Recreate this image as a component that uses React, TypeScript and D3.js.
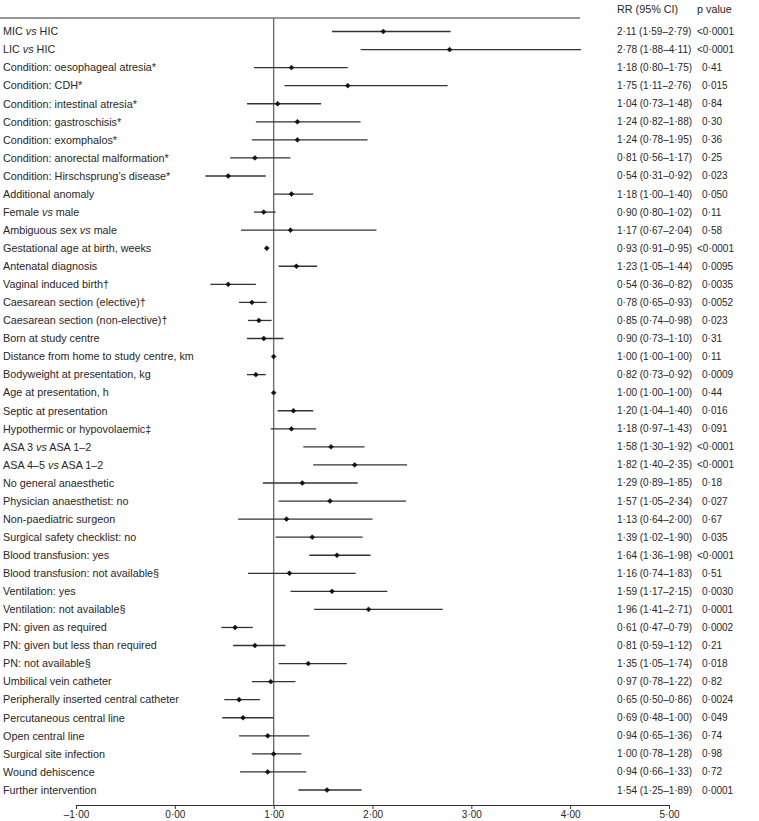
import React, { useRef, useEffect } from 'react';
import * as d3 from 'd3';

const labels = [
  'MIC vs HIC',
  'LIC vs HIC',
  'Condition: oesophageal atresia*',
  'Condition: CDH*',
  'Condition: intestinal atresia*',
  'Condition: gastroschisis*',
  'Condition: exomphalos*',
  'Condition: anorectal malformation*',
  'Condition: Hirschsprung\u2019s disease*',
  'Additional anomaly',
  'Female vs male',
  'Ambiguous sex vs male',
  'Gestational age at birth, weeks',
  'Antenatal diagnosis',
  'Vaginal induced birth\u2020',
  'Caesarean section (elective)\u2020',
  'Caesarean section (non-elective)\u2020',
  'Born at study centre',
  'Distance from home to study centre, km',
  'Bodyweight at presentation, kg',
  'Age at presentation, h',
  'Septic at presentation',
  'Hypothermic or hypovolaemic\u2021',
  'ASA 3 vs ASA 1\u20132',
  'ASA 4\u20135 vs ASA 1\u20132',
  'No general anaesthetic',
  'Physician anaesthetist: no',
  'Non-paediatric surgeon',
  'Surgical safety checklist: no',
  'Blood transfusion: yes',
  'Blood transfusion: not available\u00a7',
  'Ventilation: yes',
  'Ventilation: not available\u00a7',
  'PN: given as required',
  'PN: given but less than required',
  'PN: not available\u00a7',
  'Umbilical vein catheter',
  'Peripherally inserted central catheter',
  'Percutaneous central line',
  'Open central line',
  'Surgical site infection',
  'Wound dehiscence',
  'Further intervention',
];

const rr = [2.11, 2.78, 1.18, 1.75, 1.04, 1.24, 1.24, 0.81, 0.54, 1.18, 0.90, 1.17, 0.93, 1.23, 0.54, 0.78, 0.85, 0.90, 1.00, 0.82, 1.00, 1.20, 1.18, 1.58, 1.82, 1.29, 1.57, 1.13, 1.39, 1.64, 1.16, 1.59, 1.96, 0.61, 0.81, 1.35, 0.97, 0.65, 0.69, 0.94, 1.00, 0.94, 1.54];
const ciLow = [1.59, 1.88, 0.80, 1.11, 0.73, 0.82, 0.78, 0.56, 0.31, 1.00, 0.80, 0.67, 0.91, 1.05, 0.36, 0.65, 0.74, 0.73, 1.00, 0.73, 1.00, 1.04, 0.97, 1.30, 1.40, 0.89, 1.05, 0.64, 1.02, 1.36, 0.74, 1.17, 1.41, 0.47, 0.59, 1.05, 0.78, 0.50, 0.48, 0.65, 0.78, 0.66, 1.25];
const ciHigh = [2.79, 4.11, 1.75, 2.76, 1.48, 1.88, 1.95, 1.17, 0.92, 1.40, 1.02, 2.04, 0.95, 1.44, 0.82, 0.93, 0.98, 1.10, 1.00, 0.92, 1.00, 1.40, 1.43, 1.92, 2.35, 1.85, 2.34, 2.00, 1.90, 1.98, 1.83, 2.15, 2.71, 0.79, 1.12, 1.74, 1.22, 0.86, 1.00, 1.36, 1.28, 1.33, 1.89];
const pValues = ['<0.0001', '<0.0001', '0.41', '0.015', '0.84', '0.30', '0.36', '0.25', '0.023', '0.050', '0.11', '0.58', '<0.0001', '0.0095', '0.0035', '0.0052', '0.023', '0.31', '0.11', '0.0009', '0.44', '0.016', '0.091', '<0.0001', '<0.0001', '0.18', '0.027', '0.67', '0.035', '<0.0001', '0.51', '0.0030', '0.0001', '0.0002', '0.21', '0.018', '0.82', '0.0024', '0.049', '0.74', '0.98', '0.72', '0.0001'];
const xTicks = [-1, 0, 1, 2, 3, 4, 5];

const dot = (s: string) => s.replace('.', '\u00b7');
const fmt = (v: number) => (v < 0 ? '\u2013' : '') + dot(Math.abs(v).toFixed(2));

function ForestPlot() {
  const chartRef = useRef<HTMLDivElement>(null);

  useEffect(() => {
    document.body.style.margin = '0';
    const width = 759;
    const height = 821;
    const font = '"Liberation Sans", Arial, sans-serif';
    const labelSize = '10.8px';
    const numSize = '10px';
    const textColor = '#2a2627';

    const data = labels.map((label, i) => ({
      label,
      rr: rr[i],
      lo: ciLow[i],
      hi: ciHigh[i],
      p: pValues[i],
    }));

    const x = d3.scaleLinear().domain([-1, 5]).range([76, 669]);
    const y = d3.scalePoint<number>()
      .domain(d3.range(data.length))
      .range([31.5, 790]);

    const svg = d3.select(chartRef.current)
      .append('svg')
      .attr('width', width)
      .attr('height', height)
      .style('display', 'block')
      .style('font-family', font)
      .style('font-size', labelSize);

    // header rule + column titles
    svg.append('line')
      .attr('x1', 0).attr('x2', 580)
      .attr('y1', 18).attr('y2', 18)
      .attr('stroke', '#333').attr('stroke-width', 1);

    svg.append('text')
      .attr('x', 617).attr('y', 13)
      .attr('fill', textColor)
      .text('RR (95% CI)');
    svg.append('text')
      .attr('x', 697).attr('y', 13)
      .attr('fill', textColor)
      .text('p value');

    // reference line at 1
    svg.append('line')
      .attr('x1', x(1)).attr('x2', x(1))
      .attr('y1', 18).attr('y2', 805)
      .attr('stroke', '#6e6e6e').attr('stroke-width', 1.4);

    const rows = svg.selectAll('.row')
      .data(data)
      .enter()
      .append('g')
      .attr('class', 'row')
      .attr('transform', (d, i) => `translate(0, ${y(i)})`);

    // row labels, with italic "vs"
    rows.append('text')
      .attr('x', 3)
      .attr('dy', '0.35em')
      .attr('fill', textColor)
      .each(function (d) {
        const t = d3.select(this);
        const parts = d.label.split(' vs ');
        parts.forEach((part, k) => {
          if (k > 0) {
            t.append('tspan').text(' ');
            t.append('tspan').style('font-style', 'italic').text('vs');
            t.append('tspan').text(' ');
          }
          t.append('tspan').text(part);
        });
      });

    rows.append('line')
      .attr('x1', (d) => x(d.lo))
      .attr('x2', (d) => x(d.hi))
      .attr('stroke', '#333')
      .attr('stroke-width', 1.3);

    rows.append('path')
      .attr('d', d3.symbol().type(d3.symbolDiamond2).size(15)())
      .attr('transform', (d) => `translate(${x(d.rr)}, 0)`)
      .attr('fill', '#111')
      .attr('stroke', '#111')
      .attr('stroke-width', 0.6);

    rows.append('text')
      .attr('x', 617)
      .attr('dy', '0.35em')
      .attr('fill', textColor)
      .style('font-size', numSize)
      .text((d) => `${fmt(d.rr)} (${fmt(d.lo)}\u2013${fmt(d.hi)})`);

    rows.append('text')
      .attr('x', (d) => (d.p.startsWith('<') ? 697 : 702))
      .attr('dy', '0.35em')
      .attr('fill', textColor)
      .style('font-size', numSize)
      .text((d) => dot(d.p));

    // x axis
    const axis = svg.append('g')
      .attr('transform', 'translate(0, 805)')
      .call(
        d3.axisBottom(x)
          .tickValues(xTicks)
          .tickSize(4)
          .tickSizeOuter(0)
          .tickPadding(2)
          .tickFormat((d) => fmt(d as number))
      );
    axis.select('.domain').attr('stroke', '#333');
    axis.selectAll('.tick line').attr('stroke', '#333');
    axis.selectAll('.tick text')
      .attr('fill', textColor)
      .style('font-family', font)
      .style('font-size', numSize);

    return () => {
      svg.remove();
    };
  }, []);

  return <div ref={chartRef}></div>;
}

export default function App() {
  return <ForestPlot />;
}
